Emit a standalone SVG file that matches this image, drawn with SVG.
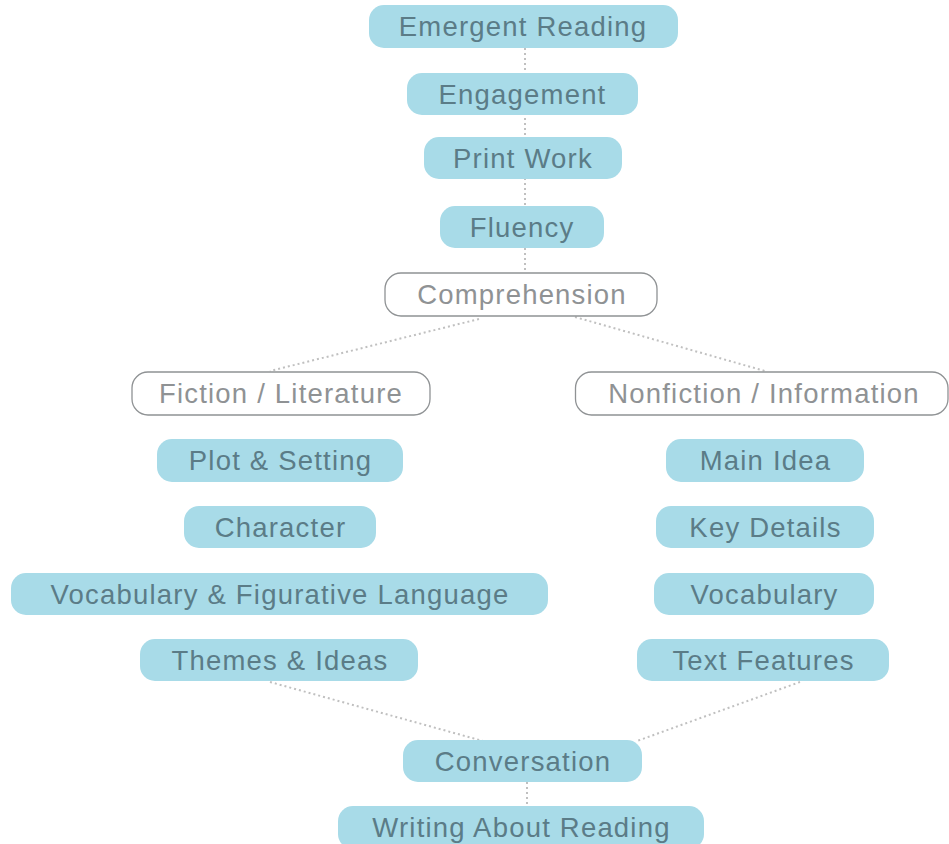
<svg xmlns="http://www.w3.org/2000/svg" width="949" height="844" viewBox="0 0 949 844">
<style>
.f rect{fill:#a8dbe8;}
.o rect{fill:#ffffff;stroke:#8f9294;stroke-width:1.3;}
text{font-family:"Liberation Sans",Arial,sans-serif;font-size:27.5px;letter-spacing:1.2px;text-anchor:middle;}
.f text{fill:#5b7c87;}
.o text{fill:#8f9294;}
#connectors line{stroke:#c0c0c0;stroke-width:2;stroke-dasharray:2 3;fill:none;}
</style>
<rect width="949" height="844" fill="#ffffff"/>
<g id="connectors">
<line x1="525" y1="48" x2="525" y2="273"/>
<line x1="479" y1="319" x2="270" y2="371"/>
<line x1="575" y1="317" x2="765" y2="371"/>
<line x1="270" y1="682" x2="483" y2="741"/>
<line x1="800" y1="682" x2="637" y2="741"/>
<line x1="527" y1="782" x2="527" y2="806"/>
</g>
<g id="emergent-reading" class="f"><rect x="369" y="5" width="309" height="43" rx="15"/><text x="523" y="36">Emergent Reading</text></g>
<g id="engagement" class="f"><rect x="407" y="73" width="231" height="42" rx="15"/><text x="522.5" y="103.5">Engagement</text></g>
<g id="print-work" class="f"><rect x="424" y="137" width="198" height="42" rx="15"/><text x="523" y="167.5">Print Work</text></g>
<g id="fluency" class="f"><rect x="440" y="206" width="164" height="42" rx="15"/><text x="522" y="236.5">Fluency</text></g>
<g id="comprehension" class="o"><rect x="385" y="273" width="272" height="43" rx="16"/><text x="522" y="304">Comprehension</text></g>
<g id="fiction" class="o"><rect x="132" y="372" width="298" height="43" rx="16"/><text x="281" y="403">Fiction / Literature</text></g>
<g id="nonfiction" class="o"><rect x="575.5" y="372" width="372.5" height="43" rx="16"/><text x="764" y="403">Nonfiction / Information</text></g>
<g id="plot-setting" class="f"><rect x="157" y="439" width="246" height="43" rx="15"/><text x="280.5" y="470">Plot &amp; Setting</text></g>
<g id="main-idea" class="f"><rect x="666" y="439" width="198" height="43" rx="15"/><text x="765.5" y="470">Main Idea</text></g>
<g id="character" class="f"><rect x="184" y="506" width="192" height="42" rx="15"/><text x="280.5" y="536.5">Character</text></g>
<g id="key-details" class="f"><rect x="656" y="506" width="218" height="42" rx="15"/><text x="765.5" y="536.5">Key Details</text></g>
<g id="vocab-figurative" class="f"><rect x="11" y="573" width="537" height="42" rx="15"/><text x="280" y="603.5">Vocabulary &amp; Figurative Language</text></g>
<g id="vocabulary" class="f"><rect x="654" y="573" width="220" height="42" rx="15"/><text x="764.5" y="603.5">Vocabulary</text></g>
<g id="themes-ideas" class="f"><rect x="140" y="639" width="278" height="42" rx="15"/><text x="280" y="669.5">Themes &amp; Ideas</text></g>
<g id="text-features" class="f"><rect x="637" y="639" width="252" height="42" rx="15"/><text x="763.5" y="669.5">Text Features</text></g>
<g id="conversation" class="f"><rect x="403" y="740" width="239" height="42" rx="15"/><text x="523" y="770.5">Conversation</text></g>
<g id="writing-about-reading" class="f"><rect x="338" y="806" width="366" height="43" rx="15"/><text x="521.5" y="836.5">Writing About Reading</text></g>
</svg>
